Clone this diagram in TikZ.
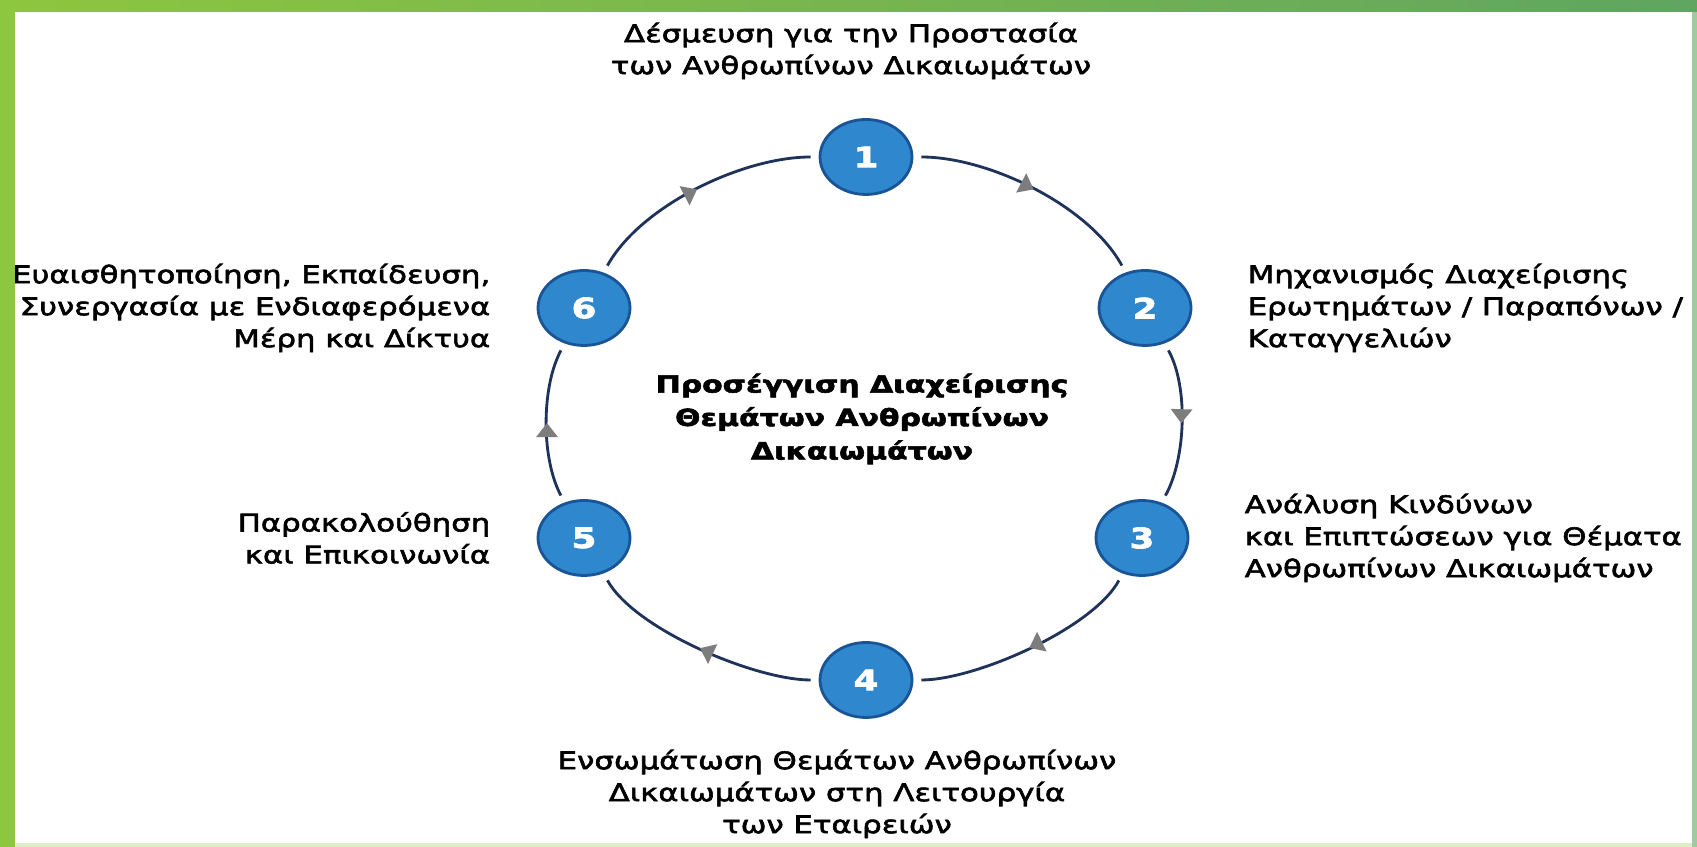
\documentclass[tikz,border=0pt]{standalone}
\usepackage{fontspec}
\setmainfont{DejaVu Sans}[FakeStretch=1.27, FakeBold=2.4]
\usetikzlibrary{positioning,shapes.geometric,arrows.meta,decorations.markings}

\definecolor{framegreen}{RGB}{141,198,63}
\definecolor{framedark}{RGB}{96,165,96}
\definecolor{stepblue}{RGB}{47,136,206}
\definecolor{stepedge}{RGB}{24,84,150}
\definecolor{ringnavy}{RGB}{30,50,90}
\definecolor{tipgray}{RGB}{125,125,125}

\tikzset{
    stepnode/.style={ellipse, draw=stepedge, line width=1.6pt, fill=stepblue,
        minimum width=1.84cm, minimum height=1.5cm, inner sep=0pt,
        text=white, font=\fontsize{16}{16}\selectfont\bfseries},
    steptext/.style={inner sep=0pt, font=\fontsize{13.8}{18.2}\selectfont},
    flow/.style={draw=ringnavy, line width=1.6pt, shorten <=4.5pt, shorten >=4.5pt,
        looseness=0.8, postaction={decorate},
        decoration={markings, mark=at position 0.5 with
            {\arrow[tipgray]{Triangle[width=12pt,length=8pt]}}}}
}

\begin{document}
\begin{tikzpicture}[x=0.02cm, y=0.02cm]
    \useasboundingbox (0,0) rectangle (1697,847);
    \fill[white] (0,0) rectangle (1697,847);

    % Steps on the ring
    \node[stepnode] (n1) at (866,690) {1};
    \node[stepnode] (n2) at (1145,539) {2};
    \node[stepnode] (n3) at (1142,309) {3};
    \node[stepnode] (n4) at (866,167) {4};
    \node[stepnode] (n5) at (584,309) {5};
    \node[stepnode] (n6) at (584,539) {6};

    % Ring
    \draw[flow] (n1) to[out=0, in=118.9] (n2);
    \draw[flow] (n2) to[out=-61.1, in=61.1] (n3);
    \draw[flow, looseness=0.68] (n3) to[out=-118.9, in=0] (n4);
    \draw[flow, looseness=0.68] (n4) to[out=180, in=-61.1] (n5);
    \draw[flow] (n5) to[out=118.9, in=-118.9] (n6);
    \draw[flow] (n6) to[out=61.1, in=180] (n1);

    % Labels
    \node[steptext, align=center] (t1) at (851,796)
        {Δέσμευση για την Προστασία\\των Ανθρωπίνων Δικαιωμάτων};
    \node[steptext, align=left, right=1.1cm of n2] (t2)
        {Μηχανισμός Διαχείρισης\\Ερωτημάτων / Παραπόνων /\\Καταγγελιών};
    \node[steptext, align=left, right=1.1cm of n3] (t3)
        {Ανάλυση Κινδύνων\\και Επιπτώσεων για Θέματα\\Ανθρωπίνων Δικαιωμάτων};
    \node[steptext, align=center] (t4) at (837,53)
        {Ενσωμάτωση Θεμάτων Ανθρωπίνων\\Δικαιωμάτων στη Λειτουργία\\των Εταιρειών};
    \node[steptext, align=right, left=0.92cm of n5] (t5)
        {Παρακολούθηση\\και Επικοινωνία};
    \node[steptext, align=right, left=0.92cm of n6] (t6)
        {Ευαισθητοποίηση, Εκπαίδευση,\\Συνεργασία με Ενδιαφερόμενα\\Μέρη και Δίκτυα};

    % Centre
    \node[steptext, font=\fontsize{13.4}{19}\selectfont\bfseries, align=center] (hub) at (862,428)
        {Προσέγγιση Διαχείρισης\\Θεμάτων Ανθρωπίνων\\Δικαιωμάτων};

    % Frame
    \shade[left color=framegreen, right color=framedark] (0,835) rectangle (1697,847);
    \fill[framegreen] (0,0) rectangle (15,847);
    \fill[framedark!60] (1692,0) rectangle (1697,835);
    \fill[framegreen!30] (15,0) rectangle (1692,4);
\end{tikzpicture}
\end{document}
